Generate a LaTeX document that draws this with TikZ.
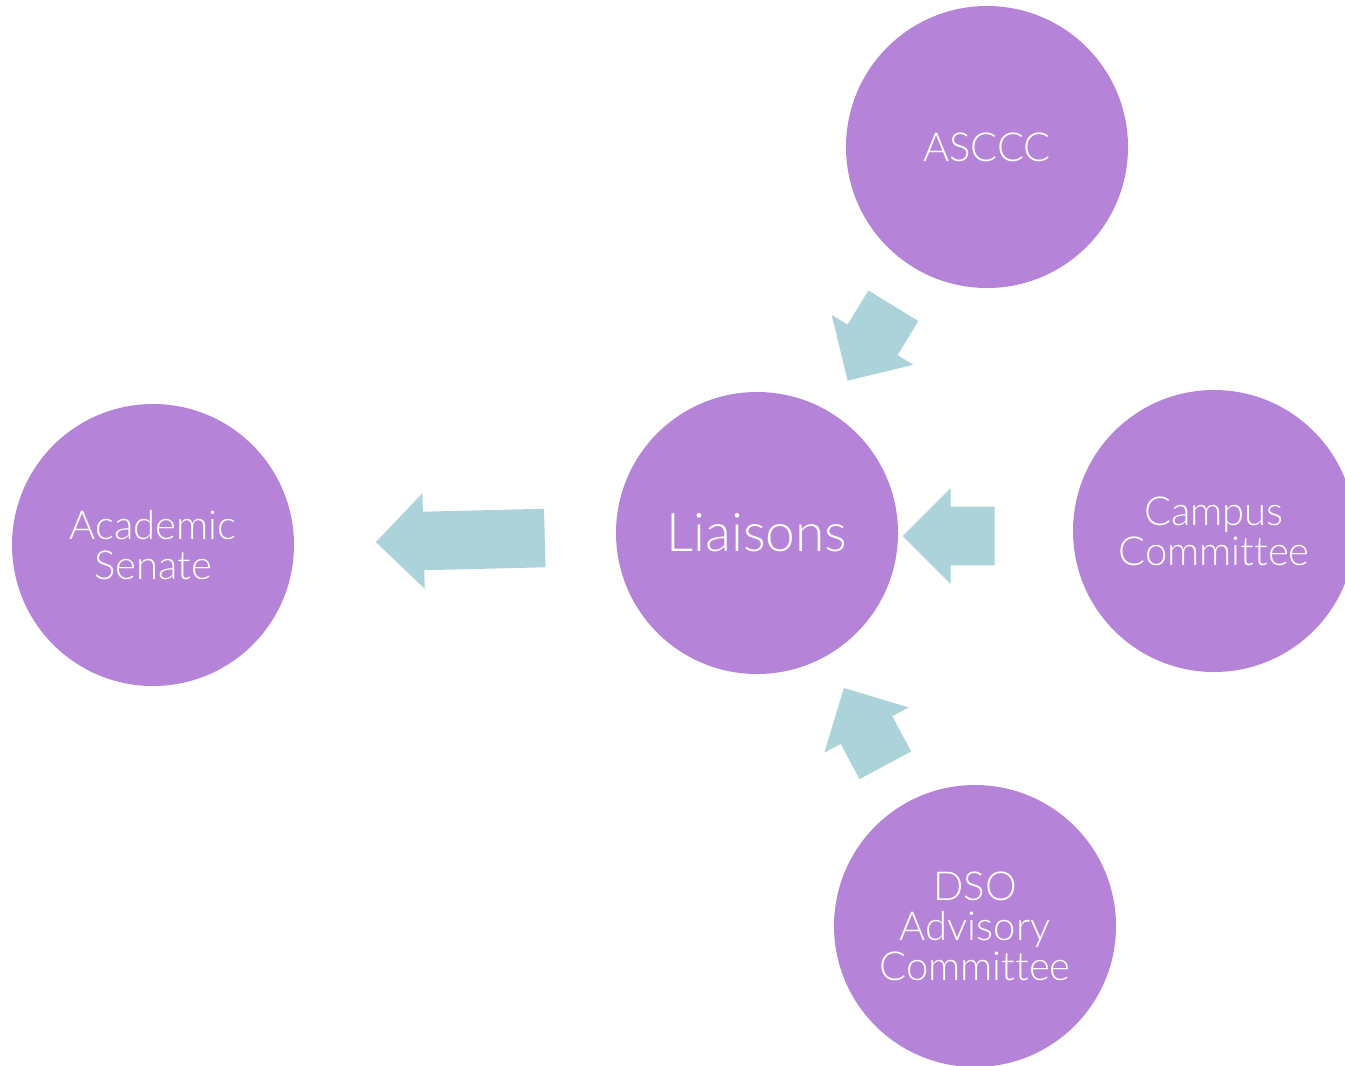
\documentclass[tikz,border=0pt]{standalone}
\usepackage{fontspec}
\setmainfont{Lato}[UprightFont={* Light}, Ligatures={NoCommon}]
\usetikzlibrary{shapes.arrows}

\definecolor{lilac}{HTML}{B584D8}
\definecolor{paleblue}{HTML}{ABD3D9}

\begin{document}
\begin{tikzpicture}
  [x=0.75pt, y=-0.75pt,
  bubble/.style={circle, fill=lilac, text=white, minimum size=211.5pt,
  inner sep=0pt, align=center, font=\fontsize{30}{30}\selectfont},
  flow/.style={single arrow, fill=paleblue, inner sep=21.75pt, anchor=tail,
  single arrow head extend=13.9pt, single arrow tip angle=90}]

  \useasboundingbox (0,0) rectangle (1345,1065);

  \node [bubble] (asccc) at (987,147) {ASCCC};
  \node [bubble, font=\fontsize{40}{40}\selectfont] (liaisons) at (757,533) {Liaisons};
  \node [bubble] (campus) at (1214,531) {Campus\\Committee};
  \node [bubble] (senate) at (153,545) {Academic\\Senate};
  \node [bubble] (dso) at (975,926) {DSO\\Advisory\\Committee};

  \node [flow, minimum height=126.75pt, rotate=181.4] (tosenate) at (545,538) {};
  \node [flow, minimum height=69pt, rotate=180] (fromcampus) at (995,536) {};
  \node [flow, minimum height=65pt, rotate=238.6] (fromasccc) at (893.5,305.5) {};
  \node [flow, minimum height=65pt, rotate=118.2] (fromdso) at (885.5,765.5) {};
\end{tikzpicture}
\end{document}
